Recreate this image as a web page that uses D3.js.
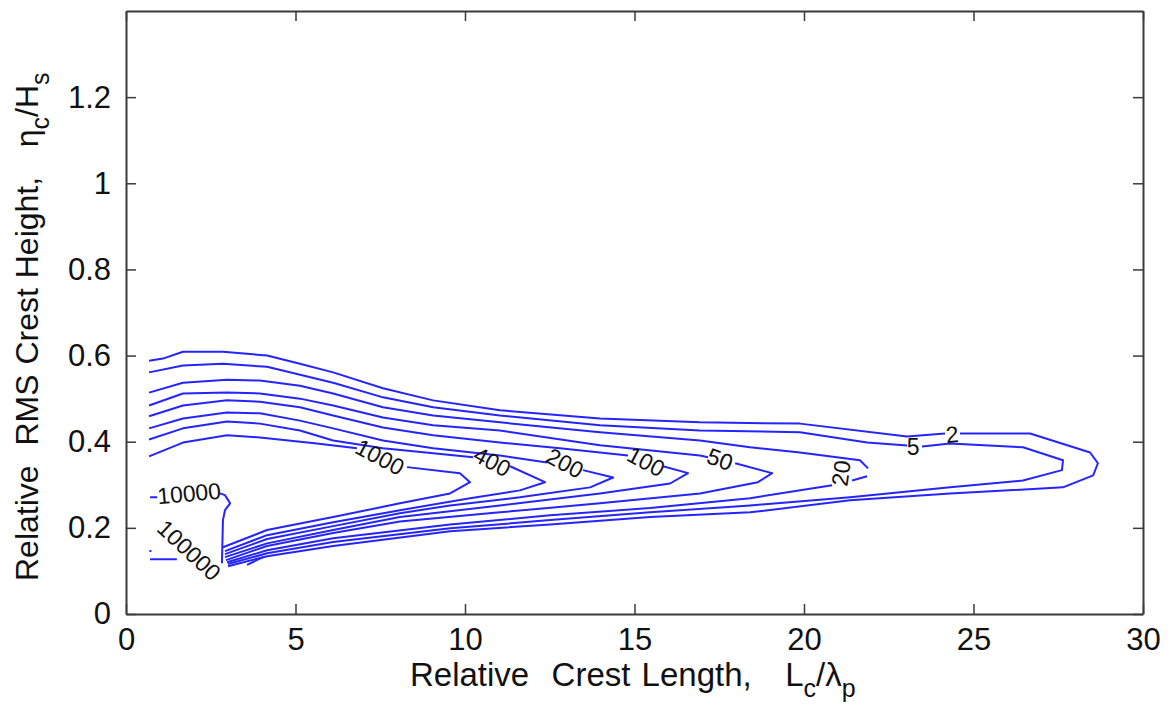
<!DOCTYPE html>
<html><head><meta charset="utf-8">
<script src="https://cdn.jsdelivr.net/npm/d3@7"></script>
<style>body{margin:0;background:#fff}</style>
</head><body>
<svg id="chart" width="1171" height="715"></svg>
<script>
// ---- data (x = Lc/lambda_p, y = eta_c/Hs); null marks a break where a label sits ----
const xTicks = [0, 5, 10, 15, 20, 25, 30];
const yTicks = [0, 0.2, 0.4, 0.6, 0.8, 1, 1.2];
const levels = [2, 5, 20, 50, 100, 200, 400, 1000, 10000, 100000];

const contour2 = [[0.68,0.588],[1.09,0.593],[1.68,0.609],[2.86,0.609],[4.16,0.600],[5.13,0.581],[6.11,0.561],[7.58,0.524],[9.06,0.496],[11.03,0.473],[13.98,0.454],[16.93,0.445],[19.88,0.442],[23.04,0.412],[24.16,0.419],null,[24.60,0.419],[26.67,0.419],[28.44,0.375],[28.67,0.350],[28.53,0.322],[27.64,0.294],[24.31,0.280],[21.36,0.264],[18.41,0.236],[15.46,0.225],[12.51,0.208],[9.56,0.192],[6.11,0.158],[4.16,0.134],[3.01,0.111]];
const contour5 = [[0.68,0.561],[1.68,0.577],[2.86,0.581],[4.16,0.574],[6.11,0.537],[7.58,0.503],[9.06,0.480],[11.03,0.461],[13.98,0.438],[16.93,0.426],[19.88,0.422],[21.86,0.398],[23.04,0.391],null,[23.48,0.389],[24.31,0.396],[26.46,0.387],[27.64,0.357],[27.61,0.334],[26.46,0.310],[24.31,0.294],[21.36,0.271],[18.41,0.252],[15.46,0.236],[12.51,0.218],[9.56,0.199],[6.11,0.167],[4.16,0.141],[3.01,0.116]];
const contour20 = [[0.68,0.514],[1.68,0.537],[2.98,0.544],[3.95,0.542],[5.13,0.530],[6.11,0.512],[7.58,0.480],[9.06,0.461],[11.03,0.445],[13.98,0.422],[16.93,0.403],[18.41,0.387],[19.88,0.375],[21.65,0.357],[21.89,0.338],null,[21.86,0.320],[21.42,0.310],null,[20.83,0.299],[18.41,0.269],[15.46,0.246],[12.51,0.229],[9.56,0.208],[6.11,0.176],[4.16,0.148],[2.98,0.120]];
const contour50 = [[0.68,0.484],[1.68,0.512],[2.98,0.514],[3.95,0.512],[5.13,0.500],[6.11,0.484],[7.58,0.456],[9.06,0.438],[11.03,0.426],[13.98,0.392],[16.93,0.368],[17.17,0.364],null,[17.97,0.350],[19.06,0.327],[18.64,0.306],[16.93,0.280],[13.98,0.257],[11.03,0.236],[8.08,0.215],[6.11,0.188],[4.16,0.158],[2.95,0.125]];
const contour100 = [[0.68,0.459],[1.68,0.484],[2.98,0.496],[3.95,0.493],[5.13,0.480],[6.11,0.461],[7.58,0.433],[9.06,0.415],[11.03,0.398],[12.80,0.385],[14.81,0.368],null,[15.84,0.343],[16.58,0.327],[16.05,0.303],[13.98,0.280],[11.03,0.252],[8.08,0.225],[6.11,0.195],[4.16,0.164],[2.92,0.132]];
const contour200 = [[0.68,0.431],[1.68,0.454],[2.98,0.468],[3.95,0.466],[5.13,0.449],[6.11,0.431],[7.58,0.403],[9.06,0.385],[11.03,0.368],[12.42,0.352],null,[13.48,0.334],[14.37,0.317],[13.69,0.294],[11.62,0.271],[9.56,0.252],[8.08,0.234],[6.11,0.204],[4.16,0.174],[2.92,0.139]];
const contour400 = [[0.68,0.405],[1.68,0.431],[2.98,0.447],[3.95,0.442],[5.13,0.426],[6.11,0.403],[7.58,0.385],[9.06,0.373],[10.24,0.364],null,[11.33,0.343],[12.36,0.306],[11.62,0.287],[10.15,0.269],[8.08,0.241],[6.11,0.213],[4.16,0.183],[2.92,0.146]];
const contour1000 = [[0.68,0.366],[1.68,0.398],[2.98,0.415],[3.95,0.410],[5.63,0.396],[6.81,0.385],null,[8.29,0.341],[9.85,0.327],[10.15,0.306],[9.56,0.280],[8.08,0.257],[6.11,0.225],[4.16,0.195],[2.86,0.155]];
const contour10000 = [[0.71,0.271],[0.92,0.271],null,[2.77,0.280],[2.92,0.276],[3.07,0.257],[2.92,0.241],[2.86,0.218],[2.83,0.118],null,[3.57,0.114],[4.04,0.132]];
const contour100000 = [[0.71,0.127],[1.50,0.127],null,[0.69,0.146],[0.75,0.146]];

const labelText  = ["1000","400","200","100","50","20","5","2","10000","100000"];
const labelX     = [7.49, 10.80, 12.95, 15.34, 17.52, 21.09, 23.22, 24.37, 1.86, 1.86];
const labelY     = [0.364, 0.354, 0.350, 0.354, 0.359, 0.327, 0.387, 0.417, 0.280, 0.148];
const labelAngle = [28, 28, 28, 28, 20, -82, 0, -5, -5, 43];

const contours = [contour2, contour5, contour20, contour50, contour100, contour200, contour400, contour1000, contour10000, contour100000];

// ---- layout ----
const W = 1171, H = 715;
const L = 126, R = 1143, T = 11, B = 614;
const font = "'Liberation Sans', Arial, Helvetica, sans-serif";
const svg = d3.select("#chart");
svg.append("rect").attr("width", W).attr("height", H).attr("fill", "#fff");

const x = d3.scaleLinear().domain([0, 30]).range([L, R]);
const y = d3.scaleLinear().domain([0, 1.4]).range([B, T]);

// contours
const line = d3.line().defined(d => d !== null).x(d => x(d[0])).y(d => y(d[1]));
svg.append("g").selectAll("path").data(contours).join("path")
  .attr("d", line).attr("fill", "none").attr("stroke", "#2424ff")
  .attr("stroke-width", 2).attr("stroke-linejoin", "round");

// contour labels
svg.append("g").selectAll("text").data(labelText).join("text")
  .attr("transform", (d, i) => `translate(${x(labelX[i])},${y(labelY[i])}) rotate(${labelAngle[i]})`)
  .attr("text-anchor", "middle").attr("dy", "0.35em")
  .style("font-family", font).style("font-size", "23px").attr("fill", "#111")
  .text(d => d);

// axes (ticks inside, box)
const axStyle = g => {
  g.selectAll("path.domain").attr("stroke", "#3a3a3a").attr("stroke-width", 2);
  g.selectAll(".tick line").attr("stroke", "#3a3a3a").attr("stroke-width", 1.5);
  g.selectAll(".tick text").style("font-family", font).style("font-size", "31px").attr("fill", "#111");
};
const fmtY = d => d === 0 ? "0" : (d === 1 ? "1" : d3.format(".1f")(d));
svg.append("g").attr("transform", `translate(0,${B})`)
  .call(d3.axisBottom(x).tickValues(xTicks).tickSize(-10).tickSizeOuter(0).tickPadding(14)).call(axStyle);
svg.append("g").attr("transform", `translate(${L},0)`)
  .call(d3.axisLeft(y).tickValues(yTicks).tickFormat(fmtY).tickSize(-10).tickSizeOuter(0).tickPadding(15)).call(axStyle);
svg.append("g").attr("transform", `translate(0,${T})`)
  .call(d3.axisTop(x).tickValues(xTicks).tickFormat("").tickSize(-10).tickSizeOuter(0)).call(axStyle);
svg.append("g").attr("transform", `translate(${R},0)`)
  .call(d3.axisRight(y).tickValues(yTicks).tickFormat("").tickSize(-10).tickSizeOuter(0)).call(axStyle);

// axis titles
const xt = svg.append("text").attr("x", 410).attr("y", 686)
  .style("font-family", font).style("font-size", "33px").style("word-spacing", "2px").attr("fill", "#111")
  .attr("xml:space", "preserve");
xt.append("tspan").text("Relative  Crest Length,   L");
xt.append("tspan").attr("dy", 11).style("font-size", "25px").text("c");
xt.append("tspan").attr("dy", -11).text("/λ");
xt.append("tspan").attr("dy", 11).style("font-size", "25px").text("p");

const yt = svg.append("text").attr("transform", "translate(38,581) rotate(-90)")
  .style("font-family", font).style("font-size", "32px").style("word-spacing", "1px").attr("fill", "#111")
  .attr("xml:space", "preserve");
yt.append("tspan").text("Relative  RMS Crest Height,   η");
yt.append("tspan").attr("dy", 11).style("font-size", "25px").text("c");
yt.append("tspan").attr("dy", -11).text("/H");
yt.append("tspan").attr("dy", 11).style("font-size", "25px").text("s");
</script>
</body></html>
